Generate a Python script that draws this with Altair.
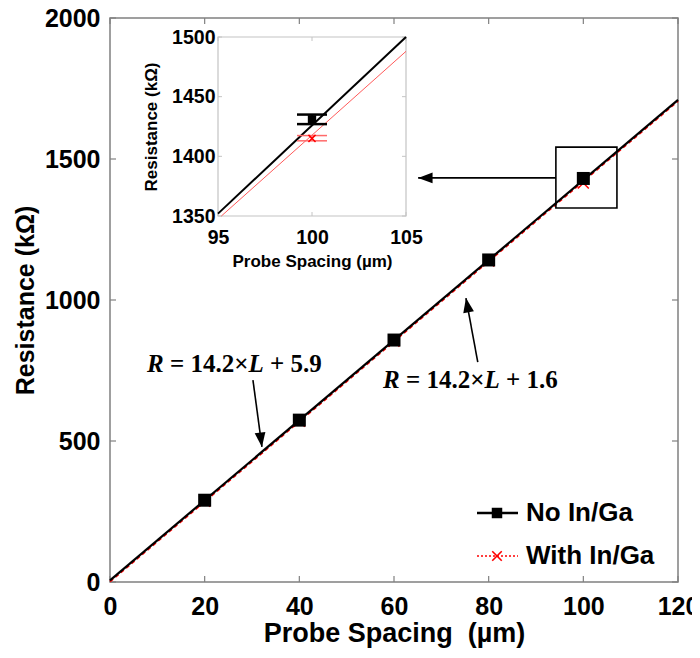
import altair as alt
import pandas as pd

# ---------------- data ----------------
spacing = [20, 40, 60, 80, 100]
res_no = [290, 574, 858, 1142, 1431]
res_with = [286, 570, 854, 1138, 1415]

fit_x = [0, 120]
fit_no = [5.9, 1709.9]      # R = 14.2 L + 5.9
fit_with = [1.6, 1705.6]    # R = 14.2 L + 1.6

x_ticks = [0, 20, 40, 60, 80, 100, 120]
y_ticks = [0, 500, 1000, 1500, 2000]

box_x = [94.2]
box_x2 = [107.1]
box_y = [1326]
box_y2 = [1542]

ann_x = [7.8, 57.7]
ann_y = [745, 688]
ann_const = ["5.9", "1.6"]

arrow_x = [30.2, 77.7, 94.2]
arrow_y = [716, 780, 1433]
arrow_x2 = [32.1, 75.2, 65.1]
arrow_y2 = [479, 1007, 1433]
arrow_angle = [172.4, 349.4, 270]

legend_labels = ["No In/Ga", "With In/Ga"]

# inset
in_x_ticks = [95, 100, 105]
in_y_ticks = [1350, 1400, 1450, 1500]
in_line_no_x = [95, 105]
in_line_no_y = [1352, 1500]
in_line_with_x = [95.18, 105]
in_line_with_y = [1350, 1488]
in_pt_x = [100]
in_no_c, in_no_lo, in_no_hi = [1431], [1427], [1435]
in_with_c, in_with_lo, in_with_hi = [1415], [1413], [1417.4]

# ---------------- styling ----------------
F = "Liberation Sans"
SERIF = "Liberation Serif"
W, H = 568, 564
XPATH = "M-1,-1L1,1M1,-1L-1,1"
HEAD = "M0,0L0.6,1.6L-0.6,1.6Z"
FRAME = "#808080"

X = alt.Scale(domain=[0, 120], nice=False, zero=False)
Y = alt.Scale(domain=[0, 2000], nice=False, zero=False)

xaxis = alt.Axis(values=x_ticks, format="d", title="Probe Spacing\u00a0 (µm)", domain=False,
                 ticks=False, tickSize=0, labelFlush=False, labelPadding=12, labelFontSize=25,
                 titleFontSize=27, titlePadding=1, grid=False)
yaxis = alt.Axis(values=y_ticks, format="d", title="Resistance (kΩ)", domain=False, ticks=False,
                 tickSize=0, labelPadding=10, labelFontSize=25, titleFontSize=25,
                 titlePadding=6, grid=False)

def MX(f):
    return alt.X(f, scale=X, axis=xaxis)

def MY(f):
    return alt.Y(f, scale=Y, axis=yaxis)

fit_df = pd.DataFrame({"x": fit_x, "no": fit_no, "with": fit_with})
pts_df = pd.DataFrame({"x": spacing, "no": res_no, "with": res_with})

red_fit = alt.Chart(fit_df).mark_line(color="red", strokeWidth=2, strokeDash=[4, 3]).encode(
    x=MX("x:Q"), y=MY("with:Q"))
black_fit = alt.Chart(fit_df).mark_line(color="black", strokeWidth=2.2).encode(
    x=MX("x:Q"), y=MY("no:Q"))
red_pts = alt.Chart(pts_df).mark_point(shape=XPATH, size=120, color="red", filled=False,
                                       strokeWidth=1.5, opacity=1).encode(
    x=MX("x:Q"), y=MY("with:Q"))
black_pts = alt.Chart(pts_df).mark_point(shape="square", size=169, color="black", filled=True,
                                         opacity=1).encode(
    x=MX("x:Q"), y=MY("no:Q"))

box_df = pd.DataFrame({"x": box_x, "x2": box_x2, "y": box_y, "y2": box_y2})
box = alt.Chart(box_df).mark_rect(fillOpacity=0, stroke="black", strokeWidth=1.6).encode(
    x=MX("x:Q"), x2="x2:Q", y=MY("y:Q"), y2="y2:Q")

arr_df = pd.DataFrame({"x": arrow_x, "y": arrow_y, "x2": arrow_x2, "y2": arrow_y2, "a": arrow_angle})
arrows = alt.Chart(arr_df).mark_rule(color="black", strokeWidth=1.6).encode(
    x=MX("x:Q"), x2="x2:Q", y=MY("y:Q"), y2="y2:Q")
heads = alt.Chart(arr_df).mark_point(shape=HEAD, size=324, filled=True, color="black",
                                     opacity=1).encode(
    x=MX("x2:Q"), y=MY("y2:Q"), angle=alt.Angle("a:Q", scale=None))

# inward ticks on the frame
xt_df = pd.DataFrame({"x": x_ticks})
yt_df = pd.DataFrame({"y": y_ticks})
tick_bottom = alt.Chart(xt_df).mark_rule(color=FRAME, strokeWidth=1.2).encode(
    x=MX("x:Q"), y=alt.value(H), y2=alt.value(H - 6))
tick_top = alt.Chart(xt_df).mark_rule(color=FRAME, strokeWidth=1.2).encode(
    x=MX("x:Q"), y=alt.value(0), y2=alt.value(6))
tick_left = alt.Chart(yt_df).mark_rule(color=FRAME, strokeWidth=1.2).encode(
    y=MY("y:Q"), x=alt.value(0), x2=alt.value(6))
tick_right = alt.Chart(yt_df).mark_rule(color=FRAME, strokeWidth=1.2).encode(
    y=MY("y:Q"), x=alt.value(W), x2=alt.value(W - 6))

# equation annotations (mixed italic / upright)
ann_df = pd.DataFrame({"x": ann_x, "y": ann_y, "c": ["+\u00a0" + c for c in ann_const]})

def ann_piece(dx, italic, text=None):
    kw = {"text": text} if text else {}
    mk = alt.Chart(ann_df).mark_text(font=SERIF, fontSize=25, fontWeight="bold",
                                     fontStyle="italic" if italic else "normal",
                                     align="left", baseline="alphabetic", dx=dx,
                                     color="black", **kw)
    enc = dict(x=MX("x:Q"), y=MY("y:Q"))
    if text is None:
        enc["text"] = "c:N"
    return mk.encode(**enc)

ann_R = ann_piece(0, True, "R")
ann_eq = ann_piece(23, False, "=\u00a014.2×")
ann_L = ann_piece(101.5, True, "L")
ann_c = ann_piece(123, False)

# legend (drawn manually)
leg_df = pd.DataFrame({"k": [0]})
ly1, ly2 = 495, 538
leg = [
    alt.Chart(leg_df).mark_rule(color="black", strokeWidth=2.5).encode(
        x=alt.value(367), x2=alt.value(408), y=alt.value(ly1)),
    alt.Chart(leg_df).mark_point(shape="square", size=110, filled=True, color="black", opacity=1).encode(
        x=alt.value(387), y=alt.value(ly1)),
    alt.Chart(leg_df).mark_text(align="left", baseline="middle", font=F, fontSize=26,
                                fontWeight="bold", color="black").encode(
        x=alt.value(416), y=alt.value(ly1), text=alt.value(legend_labels[0])),
    alt.Chart(leg_df).mark_rule(color="red", strokeWidth=1.6, strokeDash=[2, 2]).encode(
        x=alt.value(367), x2=alt.value(408), y=alt.value(ly2)),
    alt.Chart(leg_df).mark_point(shape=XPATH, size=90, filled=False, color="red",
                                 strokeWidth=1.6, opacity=1).encode(
        x=alt.value(387), y=alt.value(ly2)),
    alt.Chart(leg_df).mark_text(align="left", baseline="middle", font=F, fontSize=26,
                                fontWeight="bold", color="black").encode(
        x=alt.value(416), y=alt.value(ly2), text=alt.value(legend_labels[1])),
]

main = alt.layer(tick_bottom, tick_top, tick_left, tick_right,
                 red_fit, black_fit, red_pts, black_pts, box, arrows, heads,
                 ann_R, ann_eq, ann_L, ann_c, *leg)

# ---------------- inset ----------------
IL, IR, IT, IB = 108, 296, 19, 198
IX = alt.Scale(domain=[95, 105], range=[IL, IR], nice=False, zero=False)
IY = alt.Scale(domain=[1350, 1500], range=[IB, IT], nice=False, zero=False)
IFRAME = "#c4c4c4"

in_xaxis = alt.Axis(values=in_x_ticks, format="d", orient="bottom", offset=-(H - IB),
                    domain=False, ticks=False, tickSize=0, labelFlush=False, labelPadding=12,
                    labelFontSize=19.5, title="Probe Spacing (µm)", titleFontSize=17,
                    titlePadding=7, grid=False)
in_yaxis = alt.Axis(values=in_y_ticks, format="d", orient="left", offset=-IL, domain=False,
                    ticks=False, tickSize=0, labelPadding=3, labelFontSize=19.5,
                    title="Resistance (kΩ)", titleFontSize=17, titlePadding=11, grid=False)

def IXe(f):
    return alt.X(f, scale=IX, axis=in_xaxis)

def IYe(f):
    return alt.Y(f, scale=IY, axis=in_yaxis)

in_rect_df = pd.DataFrame({"x": [in_x_ticks[0]], "x2": [in_x_ticks[-1]],
                           "y": [in_y_ticks[0]], "y2": [in_y_ticks[-1]]})
in_rect = alt.Chart(in_rect_df).mark_rect(fill="white", stroke=IFRAME, strokeWidth=1.2).encode(
    x=IXe("x:Q"), x2="x2:Q", y=IYe("y:Q"), y2="y2:Q")

ixt = pd.DataFrame({"x": in_x_ticks})
iyt = pd.DataFrame({"y": in_y_ticks})
in_ticks = [
    alt.Chart(ixt).mark_rule(color=IFRAME).encode(
        x=IXe("x:Q"), y=alt.value(IB), y2=alt.value(IB - 4)),
    alt.Chart(ixt).mark_rule(color=IFRAME).encode(
        x=IXe("x:Q"), y=alt.value(IT), y2=alt.value(IT + 4)),
    alt.Chart(iyt).mark_rule(color=IFRAME).encode(
        y=IYe("y:Q"), x=alt.value(IL), x2=alt.value(IL + 4)),
    alt.Chart(iyt).mark_rule(color=IFRAME).encode(
        y=IYe("y:Q"), x=alt.value(IR), x2=alt.value(IR - 4)),
]

in_no_df = pd.DataFrame({"x": in_line_no_x, "y": in_line_no_y})
in_with_df = pd.DataFrame({"x": in_line_with_x, "y": in_line_with_y})
in_line_no = alt.Chart(in_no_df).mark_line(color="black", strokeWidth=2).encode(
    x=IXe("x:Q"), y=IYe("y:Q"))
in_line_with = alt.Chart(in_with_df).mark_line(color="#ff5a5a", strokeWidth=1).encode(
    x=IXe("x:Q"), y=IYe("y:Q"))

eb_no = pd.DataFrame({"x": in_pt_x, "c": in_no_c, "lo": in_no_lo, "hi": in_no_hi})
eb_with = pd.DataFrame({"x": in_pt_x, "c": in_with_c, "lo": in_with_lo, "hi": in_with_hi})

def errbar(df, color, width, capw):
    r = alt.Chart(df).mark_rule(color=color, strokeWidth=width).encode(
        x=IXe("x:Q"), y=IYe("lo:Q"), y2="hi:Q")
    lo = alt.Chart(df).mark_tick(color=color, orient="horizontal", size=30, thickness=capw,
                                 opacity=1).encode(x=IXe("x:Q"), y=IYe("lo:Q"))
    hi = alt.Chart(df).mark_tick(color=color, orient="horizontal", size=30, thickness=capw,
                                 opacity=1).encode(x=IXe("x:Q"), y=IYe("hi:Q"))
    return [r, lo, hi]

in_no_pt = alt.Chart(eb_no).mark_point(shape="square", size=70, filled=True, color="black",
                                       opacity=1).encode(x=IXe("x:Q"), y=IYe("c:Q"))
in_with_pt = alt.Chart(eb_with).mark_point(shape=XPATH, size=50, filled=False, color="red",
                                           strokeWidth=1.5, opacity=1).encode(
    x=IXe("x:Q"), y=IYe("c:Q"))

inset = alt.layer(in_rect, *in_ticks, in_line_with, in_line_no,
                  *errbar(eb_with, "#ff6a6a", 1.2, 1.5), in_with_pt,
                  *errbar(eb_no, "black", 2, 2.5), in_no_pt)

chart = alt.layer(main, inset).resolve_scale(x="independent", y="independent").properties(
    width=W, height=H,
    padding={"left": 102, "top": 10, "right": 14, "bottom": 68},
    autosize=alt.AutoSizeParams(type="none"),
).configure_view(stroke=FRAME, strokeWidth=1.5).configure_axis(
    grid=False, labelFont=F, titleFont=F, labelFontWeight="bold", titleFontWeight="bold",
    labelColor="black", titleColor="black")

chart.save("out.html", embed_options={"renderer": "svg", "actions": False})
